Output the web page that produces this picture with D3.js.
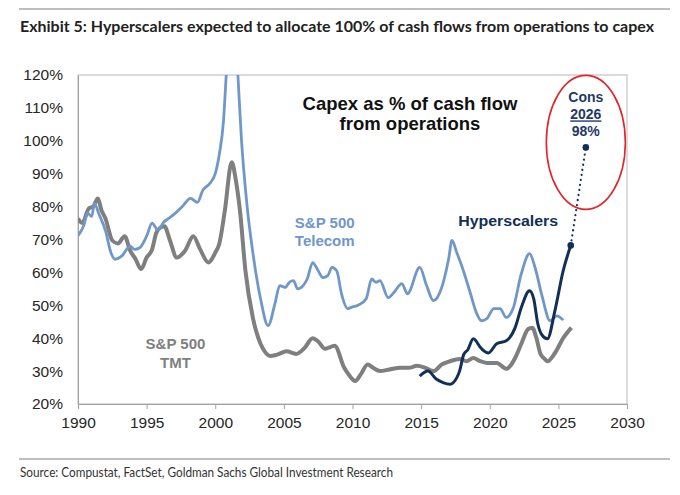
<!DOCTYPE html>
<html>
<head>
<meta charset="utf-8">
<script src="https://cdn.jsdelivr.net/npm/d3@7"></script>
<style>
  body { margin: 0; background: #fff; }
  svg { display: block; }
</style>
</head>
<body>
<div id="chart"></div>
<script>
// Data: [year, % of cash flow from operations]
const telecom = [
    [1990.0, 71.2], [1990.4, 74], [1990.7, 78], [1991.0, 77], [1991.2, 81], [1991.5, 78],
    [1992.0, 72.7], [1992.4, 66], [1992.7, 64], [1993.2, 65], [1993.8, 68], [1994.1, 67],
    [1994.5, 67.5], [1995.0, 71], [1995.4, 75], [1995.8, 73], [1996.3, 75.5], [1996.6, 76.4],
    [1997.1, 78], [1997.6, 80], [1998.2, 82.5], [1998.7, 81.3], [1999.1, 85], [1999.6, 87],
    [2000.0, 90], [2000.3, 96], [2000.6, 106], [2000.8, 120], [2001.2, 150], [2001.65, 120],
    [2001.9, 101], [2002.3, 81], [2002.75, 65.7], [2003.3, 52], [2003.85, 43.8], [2004.35, 50.5],
    [2004.7, 56], [2005.1, 55.4], [2005.4, 57], [2005.7, 57.5], [2006.0, 55], [2006.4, 56],
    [2006.7, 58], [2007.1, 63], [2007.5, 60.5], [2007.85, 58.4], [2008.2, 59], [2008.5, 61.5],
    [2008.85, 60.5], [2009.2, 53.5], [2009.65, 49], [2010.0, 49.5], [2010.4, 50], [2011.0, 52],
    [2011.4, 58], [2011.7, 57], [2012.0, 57.5], [2012.6, 52.3], [2013.0, 53.8], [2013.6, 56.6],
    [2014.0, 53.5], [2014.9, 61.5], [2015.4, 56], [2015.9, 51.4], [2016.5, 55.4], [2017.0, 64],
    [2017.25, 69.7], [2017.6, 66], [2018.0, 61.5], [2018.6, 53.5], [2019.0, 48], [2019.4, 45.3],
    [2019.8, 46], [2020.3, 49], [2020.75, 49], [2021.2, 46.3], [2021.7, 49], [2022.3, 59.6],
    [2022.9, 65.7], [2023.3, 61.5], [2023.8, 53], [2024.4, 45.3], [2024.9, 46.8], [2025.35, 45.5]
];

const tmt = [
    [1990.0, 76.4], [1990.3, 75], [1990.8, 79.5], [1991.1, 80], [1991.45, 82.5], [1991.7, 79],
    [1992.0, 76.4], [1992.5, 69.7], [1992.9, 68.8], [1993.4, 71], [1993.8, 66.6], [1994.2, 64],
    [1994.6, 61], [1995.0, 64.5], [1995.4, 67], [1995.7, 72], [1996.0, 73.6], [1996.3, 74],
    [1996.7, 69.7], [1997.2, 64.5], [1997.8, 66.6], [1998.4, 71], [1998.9, 67], [1999.5, 63],
    [2000.0, 66], [2000.3, 68.8], [2000.7, 78.8], [2001.2, 93.5], [2001.5, 88], [2001.8, 78.8],
    [2002.2, 60.5], [2002.75, 46], [2003.3, 38.3], [2003.6, 36], [2004.0, 34.6], [2004.5, 35],
    [2005.2, 36], [2005.9, 35.2], [2006.5, 37], [2007.1, 40], [2007.5, 39], [2008.0, 36.8],
    [2008.7, 37.7], [2009.4, 31], [2009.8, 28.5], [2010.2, 27], [2010.6, 29], [2011.1, 32],
    [2011.5, 31], [2012.0, 30], [2012.7, 30.5], [2013.5, 31], [2014.1, 31], [2014.7, 31.6],
    [2015.3, 31], [2015.9, 30], [2016.5, 32], [2017.1, 33], [2017.8, 33.7], [2018.3, 33],
    [2018.8, 34], [2019.3, 33], [2019.8, 32.5], [2020.5, 32.5], [2021.2, 30.7], [2021.85, 34],
    [2022.3, 38.3], [2022.8, 42.8], [2023.1, 43.2], [2023.4, 40], [2023.7, 35.2], [2024.0, 33.7],
    [2024.2, 33], [2024.75, 35.5], [2025.35, 40], [2025.95, 43.2]
];

const hyperscalers = [
    [2014.9, 28.5], [2015.5, 30], [2016.1, 27.6], [2016.6, 26.5], [2017.1, 26], [2017.6, 28],
    [2017.8, 30], [2018.1, 35], [2018.4, 36.5], [2018.8, 39.8], [2019.4, 36.8], [2019.9, 35.5],
    [2020.5, 38.3], [2021.2, 39.2], [2021.85, 43.2], [2022.3, 49.3], [2022.9, 54.4], [2023.2, 52],
    [2023.5, 44.4], [2023.8, 41], [2024.2, 39.8], [2024.75, 48.4], [2025.35, 60.5], [2025.9, 68.2]
];

// consensus 2026 projection
const projection = [[2025.9, 68.2], [2027.0, 98]];

const xTicks = [1990, 1995, 2000, 2005, 2010, 2015, 2020, 2025, 2030];
const yTicks = [20, 30, 40, 50, 60, 70, 80, 90, 100, 110, 120];

const title = "Exhibit 5: Hyperscalers expected to allocate 100% of cash flows from operations to capex";
const source = "Source: Compustat, FactSet, Goldman Sachs Global Investment Research";

// Colors
const blue = "#7097ca";
const grey = "#7f7f7f";
const navy = "#122f57";

const W = 680, H = 495;
const margin = { top: 75, right: 53, bottom: 91, left: 78 };
const width = W - margin.left - margin.right;
const height = H - margin.top - margin.bottom;

const root = d3.select("#chart").append("svg")
    .attr("width", W)
    .attr("height", H)
    .style("font-family", "'Liberation Sans', Arial, sans-serif");

// Header and footer rules
root.append("line")
    .attr("x1", 19).attr("x2", 670).attr("y1", 9).attr("y2", 9)
    .style("stroke", "#a8a8a8").style("stroke-width", 1.5);

root.append("text")
    .attr("x", 20)
    .attr("y", 32)
    .attr("textLength", 634)
    .attr("lengthAdjust", "spacingAndGlyphs")
    .style("font-family", "Lato, 'Open Sans', sans-serif")
    .style("font-size", "16px")
    .style("font-weight", "bold")
    .style("fill", "#222")
    .text(title);

root.append("line")
    .attr("x1", 19).attr("x2", 670).attr("y1", 459).attr("y2", 459)
    .style("stroke", "#a8a8a8").style("stroke-width", 1.5);

root.append("text")
    .attr("x", 20)
    .attr("y", 477)
    .attr("textLength", 373)
    .attr("lengthAdjust", "spacingAndGlyphs")
    .style("font-family", "Lato, 'Open Sans', sans-serif")
    .style("font-size", "12.5px")
    .style("fill", "#333")
    .text(source);

const svg = root.append("g")
    .attr("transform", `translate(${margin.left},${margin.top})`);

// Scales
const x = d3.scaleLinear().domain([1990, 2030]).range([0, width]);
const y = d3.scaleLinear().domain([20, 120]).range([height, 0]);

// Plot frame
svg.append("rect")
    .attr("width", width)
    .attr("height", height)
    .style("fill", "none")
    .style("stroke", "#b8b8b8")
    .style("stroke-width", 1);

// Axes
const xAxis = svg.append("g")
    .attr("transform", `translate(0,${height})`)
    .call(d3.axisBottom(x).tickValues(xTicks).tickFormat(d3.format("d")).tickSize(5).tickPadding(8));

const yAxis = svg.append("g")
    .call(d3.axisLeft(y).tickValues(yTicks).tickFormat(d => d + "%").tickSize(0).tickPadding(15));

[xAxis, yAxis].forEach(a => {
    a.select(".domain").style("stroke", "#a0a0a0");
    a.selectAll(".tick line").style("stroke", "#a0a0a0");
    a.selectAll(".tick text")
        .style("font-family", "'Liberation Sans', Arial, sans-serif")
        .style("font-size", "15.5px")
        .style("fill", "#262626");
});

// Clip lines to the plot area
svg.append("clipPath")
    .attr("id", "plot-clip")
    .append("rect")
    .attr("width", width)
    .attr("height", height);

const line = d3.line()
    .x(d => x(d[0]))
    .y(d => y(d[1]))
    .curve(d3.curveMonotoneX);

const lines = svg.append("g").attr("clip-path", "url(#plot-clip)");

lines.append("path")
    .datum(tmt)
    .attr("d", line)
    .style("fill", "none")
    .style("stroke", grey)
    .style("stroke-width", 4)
    .style("stroke-linejoin", "round");

lines.append("path")
    .datum(telecom)
    .attr("d", line)
    .style("fill", "none")
    .style("stroke", blue)
    .style("stroke-width", 2.8)
    .style("stroke-linejoin", "round");

lines.append("path")
    .datum(hyperscalers)
    .attr("d", line)
    .style("fill", "none")
    .style("stroke", navy)
    .style("stroke-width", 3)
    .style("stroke-linejoin", "round");

// Dotted projection to consensus 2026
svg.append("path")
    .datum(projection)
    .attr("d", d3.line().x(d => x(d[0])).y(d => y(d[1])))
    .style("fill", "none")
    .style("stroke", navy)
    .style("stroke-width", 2.2)
    .style("stroke-linecap", "round")
    .style("stroke-dasharray", "0.1,5");

svg.selectAll(".end-dot")
    .data(projection)
    .enter().append("circle")
    .attr("class", "end-dot")
    .attr("cx", d => x(d[0]))
    .attr("cy", d => y(d[1]))
    .attr("r", 3.3)
    .style("fill", navy);

// Red ellipse around the consensus point
svg.append("ellipse")
    .attr("cx", x(2027.0))
    .attr("cy", y(98) - 5)
    .attr("rx", 39.5)
    .attr("ry", 67)
    .style("fill", "none")
    .style("stroke", "#e0262b")
    .style("stroke-width", 1.6);

// Consensus labels
const cons = svg.append("g")
    .style("font-size", "14px")
    .style("font-weight", "bold")
    .style("fill", "#1f3a66")
    .attr("text-anchor", "middle");

cons.append("text").attr("x", x(2027.0)).attr("y", y(98) - 45).text("Cons");
cons.append("text").attr("x", x(2027.0)).attr("y", y(98) - 28)
    .style("text-decoration", "underline").text("2026");
cons.append("text").attr("x", x(2027.0)).attr("y", y(98) - 11).text("98%");

// Chart subtitle
const subtitle = svg.append("text")
    .attr("text-anchor", "middle")
    .style("font-size", "18.5px")
    .style("font-weight", "bold")
    .style("fill", "#111");
subtitle.append("tspan").attr("x", 410 - margin.left).attr("y", 110 - margin.top).text("Capex as % of cash flow");
subtitle.append("tspan").attr("x", 410 - margin.left).attr("y", 130 - margin.top).text("from operations");

// Series labels
const telecomLabel = svg.append("text")
    .style("font-size", "15px")
    .style("font-weight", "bold")
    .style("fill", blue);
telecomLabel.append("tspan").attr("x", x(2005.8)).attr("y", y(73.5)).text("S&P 500");
telecomLabel.append("tspan").attr("x", x(2005.8)).attr("y", y(68)).text("Telecom");

const tmtLabel = svg.append("text")
    .attr("text-anchor", "middle")
    .style("font-size", "15px")
    .style("font-weight", "bold")
    .style("fill", grey);
tmtLabel.append("tspan").attr("x", x(1997.1)).attr("y", y(36.6)).text("S&P 500");
tmtLabel.append("tspan").attr("x", x(1997.1)).attr("y", y(30.9)).text("TMT");

svg.append("text")
    .attr("x", x(2017.7))
    .attr("y", y(74.2))
    .attr("textLength", 100)
    .attr("lengthAdjust", "spacingAndGlyphs")
    .style("font-size", "14.5px")
    .style("font-weight", "bold")
    .style("fill", navy)
    .text("Hyperscalers");
</script>
</body>
</html>
